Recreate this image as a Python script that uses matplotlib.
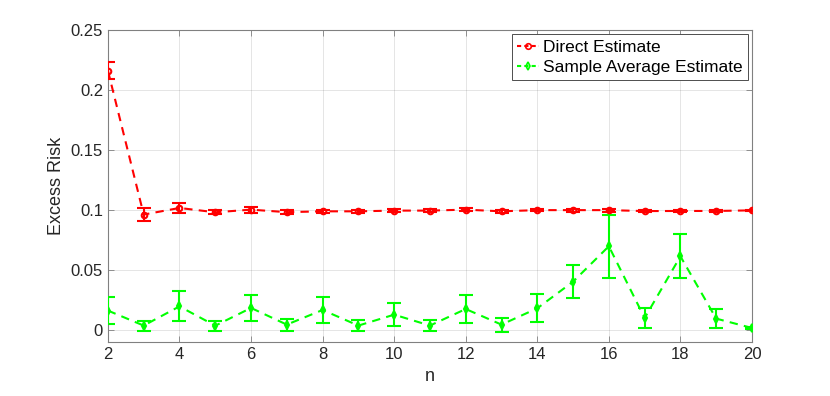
import matplotlib
matplotlib.use("Agg")
import matplotlib.pyplot as plt
from matplotlib.lines import Line2D
import numpy as np

n = list(range(2, 21))
direct = [0.2163, 0.0963, 0.1018, 0.0982, 0.1004, 0.0983, 0.0990, 0.0990, 0.0996, 0.0996,
          0.1004, 0.0990, 0.1000, 0.1000, 0.1000, 0.0992, 0.0993, 0.0993, 0.0998]
direct_err = [0.0072, 0.0056, 0.0042, 0.0017, 0.0025, 0.0015, 0.0015, 0.0010, 0.0012, 0.0010,
              0.0015, 0.0010, 0.0010, 0.0012, 0.0012, 0.0008, 0.0008, 0.0008, 0.0005]
sample = [0.0163, 0.0038, 0.0198, 0.0037, 0.0185, 0.0046, 0.0168, 0.0038, 0.0129, 0.0038,
          0.0176, 0.0046, 0.0182, 0.0404, 0.0699, 0.0101, 0.0615, 0.0096, 0.0018]
sample_err = [0.0110, 0.0042, 0.0124, 0.0040, 0.0110, 0.0049, 0.0108, 0.0044, 0.0093, 0.0044,
              0.0114, 0.0058, 0.0117, 0.0139, 0.0264, 0.0086, 0.0183, 0.0079, 0.0010]
xticks = list(range(2, 21, 2))
yticks = [0, 0.05, 0.1, 0.15, 0.2, 0.25]
ytick_labels = ["0", "0.05", "0.1", "0.15", "0.2", "0.25"]

plt.rcParams['font.family'] = ['Liberation Sans', 'DejaVu Sans']
fig = plt.figure(figsize=(8.3, 3.96), dpi=100)
ax = fig.add_axes([0.130, 0.136, 0.776, 0.788])

red = (1, 0, 0)
green = (0, 1, 0)
ax.errorbar(n, direct, yerr=direct_err, color=red, ls='--', lw=1.5, marker='o',
            ms=4, mfc='none', mew=1.5, capsize=5, capthick=1.5, elinewidth=1.5,
            dashes=(4, 3), zorder=3)
ax.errorbar(n, sample, yerr=sample_err, color=green, ls='--', lw=1.5, marker='d',
            ms=4, mfc='none', mew=1.5, capsize=5, capthick=1.5, elinewidth=1.5,
            dashes=(4, 3), zorder=3)

ax.set_xlim(2, 20)
ax.set_ylim(-0.01, 0.25)
ax.set_xticks(xticks)
ax.set_yticks(yticks)
ax.set_yticklabels(ytick_labels)
ax.grid(True, color=(0.15, 0.15, 0.15), alpha=0.12, lw=0.7)
ax.set_axisbelow(True)
ax.tick_params(direction='in', top=True, right=True, length=4, width=0.6,
               colors=(0.5, 0.5, 0.5), labelcolor=(0.15, 0.15, 0.15), labelsize=12)
for s in ax.spines.values():
    s.set_color((0.5, 0.5, 0.5))
    s.set_linewidth(0.8)
ax.set_xlabel('n', fontsize=13, color=(0.15, 0.15, 0.15))
ax.set_ylabel('Excess Risk', fontsize=13, color=(0.15, 0.15, 0.15))

handles = [
    Line2D([], [], color=red, ls='--', lw=1.5, dashes=(2, 1.5), marker='o', ms=4,
           mfc='none', mew=1.2),
    Line2D([], [], color=green, ls='--', lw=1.5, dashes=(2, 1.5), marker='d', ms=4,
           mfc='none', mew=1.2),
]
leg = ax.legend(handles, ['Direct Estimate', 'Sample Average Estimate'],
                loc='upper right', fontsize=12.5, frameon=True, fancybox=False,
                edgecolor=(0.3, 0.3, 0.3), framealpha=1, borderpad=0.3,
                handlelength=1.3, handletextpad=0.2, labelspacing=0.3,
                borderaxespad=0.25)
leg.get_frame().set_linewidth(0.7)

fig.savefig('out.png', dpi=100)
